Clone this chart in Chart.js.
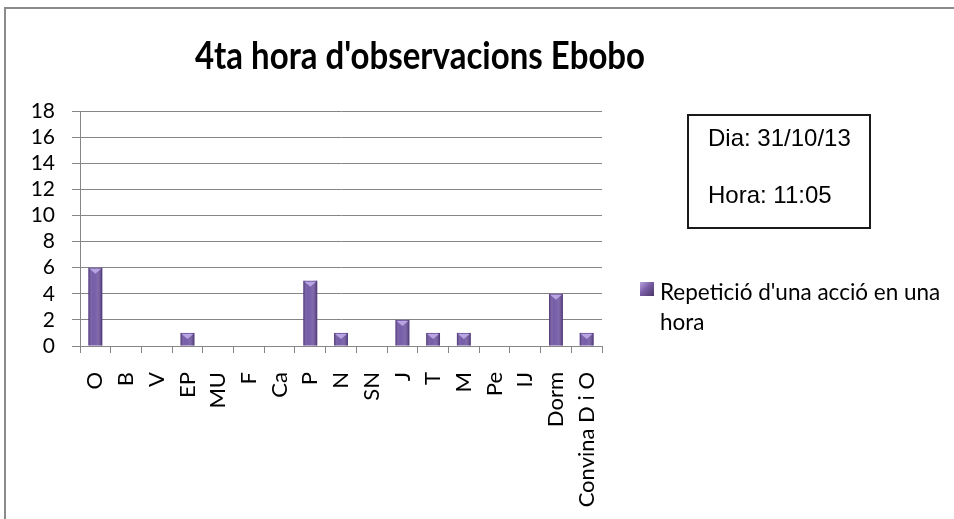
<!DOCTYPE html>
<html>
<head>
<meta charset="utf-8">
<script src="https://cdn.jsdelivr.net/npm/chart.js@4"></script>
<style>
  html, body { margin: 0; padding: 0; background: #fff; }
  #wrap { position: relative; width: 954px; height: 519px; overflow: hidden; background: #fff; }
  #frame { position: absolute; left: 4px; top: 7px; width: 960px; height: 530px; border-left: 2px solid #8a8a8a; border-top: 2px solid #8a8a8a; }
  canvas { position: absolute; left: 0; top: 0; }
  #title { position: absolute; left: 0; width: 840px; top: 36px; height: 40px; line-height: 40px; text-align: center; font: bold 33px Lato, "Open Sans", sans-serif; color: #000; white-space: nowrap; transform: scaleY(1.18); transform-origin: 50% 33px; }
  #info { position: absolute; left: 687px; top: 114px; width: 184px; height: 115px; border: 2px solid #1a1a1a; box-sizing: border-box; font: 24px "Liberation Sans", Arial, sans-serif; color: #000; }
  #info div { position: absolute; left: 19px; white-space: nowrap; }
  #legend { position: absolute; left: 640px; top: 277px; font: 22.5px Lato, "Open Sans", sans-serif; color: #000; line-height: 30px; }
  #legend .sw { position: absolute; left: 0; top: 5px; width: 14px; height: 14px; background: linear-gradient(135deg, #b9a4de 0%, #7a5ea6 45%, #4b3568 100%); }
  #legend .tx { position: absolute; left: 20px; top: 0; white-space: nowrap; }
</style>
</head>
<body>
<div id="wrap">
  <div id="frame"></div>
  <canvas id="c" width="954" height="519"></canvas>
  <div id="title">4ta hora d'observacions Ebobo</div>
  <div id="info"><div style="top:8px">Dia: 31/10/13</div><div style="top:65px">Hora: 11:05</div></div>
  <div id="legend"><div class="sw"></div><div class="tx">Repetició d'una acció en una<br>hora</div></div>
</div>
<script>
const categories = ["O", "B", "V", "EP", "MU", "F", "Ca", "P", "N", "SN", "J", "T", "M", "Pe", "IJ", "Dorm", "Convina D i O"];
const repeticions = [6, 0, 0, 1, 0, 0, 0, 5, 1, 0, 2, 1, 1, 0, 0, 4, 1];
const seriesName = "Repetició d'una acció en una hora";
const yTicks = [0, 2, 4, 6, 8, 10, 12, 14, 16, 18];

const barShade = {
  id: 'barShade',
  afterDatasetsDraw(chart) {
    const ctx = chart.ctx;
    const meta = chart.getDatasetMeta(0);
    meta.data.forEach((bar, i) => {
      if (!repeticions[i]) return;
      const p = bar.getProps(['x', 'y', 'base', 'width'], true);
      const l = p.x - p.width / 2, r = p.x + p.width / 2;
      const g = ctx.createLinearGradient(l, 0, r, 0);
      g.addColorStop(0, 'rgba(40,20,70,0.5)');
      g.addColorStop(0.3, 'rgba(255,255,255,0.08)');
      g.addColorStop(0.55, 'rgba(255,255,255,0.10)');
      g.addColorStop(1, 'rgba(40,20,70,0.55)');
      ctx.save();
      ctx.fillStyle = g;
      ctx.fillRect(l, p.y, p.width, p.base - p.y);
      ctx.beginPath();
      ctx.moveTo(l + 1, p.y + 1);
      ctx.lineTo(r - 1, p.y + 1);
      ctx.lineTo(p.x, p.y + 6);
      ctx.closePath();
      ctx.fillStyle = '#b8a4e0';
      ctx.fill();
      ctx.restore();
    });
  }
};

new Chart(document.getElementById('c'), {
  type: 'bar',
  data: {
    labels: categories,
    datasets: [{
      label: seriesName,
      data: repeticions,
      backgroundColor: '#6c50a2',
      borderWidth: 0,
      categoryPercentage: 1,
      barPercentage: 0.45
    }]
  },
  options: {
    responsive: false,
    devicePixelRatio: 1,
    animation: false,
    layout: { padding: { left: 0, right: 352, top: 111, bottom: 0 } },
    plugins: { legend: { display: false }, title: { display: false }, tooltip: { enabled: false } },
    scales: {
      x: {
        offset: true,
        afterFit(s) { s.height = 173; },
        grid: { display: true, drawOnChartArea: false, drawTicks: true, tickLength: 7, color: '#868686', offset: true },
        border: { display: true, color: '#868686', width: 1 },
        ticks: { autoSkip: false, maxRotation: 90, minRotation: 90, padding: 19, color: '#000', font: { family: 'Lato, "Open Sans", sans-serif', size: 22 } }
      },
      y: {
        min: 0, max: 18,
        afterFit(s) { s.width = 80; },
        afterBuildTicks(s) { s.ticks = yTicks.map(v => ({ value: v })); },
        grid: { display: true, drawOnChartArea: true, drawTicks: true, tickLength: 8, color: '#868686' },
        border: { display: true, color: '#868686', width: 1 },
        ticks: { autoSkip: false, stepSize: 2, padding: 17, color: '#000', font: { family: 'Lato, "Open Sans", sans-serif', size: 21 } }
      }
    }
  },
  plugins: [barShade]
});
</script>
</body>
</html>
